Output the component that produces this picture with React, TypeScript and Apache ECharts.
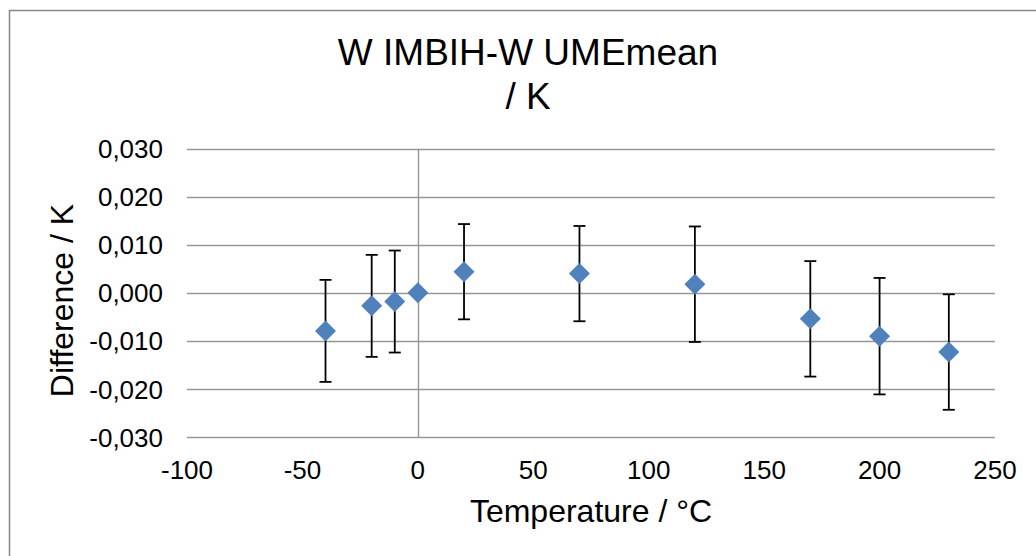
import React, { useEffect, useRef } from "react";
import * as echarts from "echarts";

const temperatures = [-40, -20, -10, 0, 20, 70, 120, 170, 200, 230];
const differences = [-0.0078, -0.0026, -0.0017, 0.0001, 0.0045, 0.0041, 0.0019, -0.0053, -0.0089, -0.0122];
const uncertainties = [0.0106, 0.0106, 0.0106, 0, 0.0099, 0.0099, 0.012, 0.012, 0.0121, 0.012];

const titleText = "W IMBIH-W UMEmean\n/ K";
const xTitle = "Temperature / °C";
const yTitle = "Difference / K";

const FONT = '"Liberation Sans", Arial, sans-serif';

export default function App() {
  const ref = useRef<HTMLDivElement>(null);
  useEffect(() => {
    if (!ref.current) return;
    const chart = echarts.init(ref.current, null, { renderer: "svg" });
    const points = temperatures.map((t, i) => [t, differences[i]]);
    const bars = temperatures
      .map((t, i) => [t, differences[i] - uncertainties[i], differences[i] + uncertainties[i], uncertainties[i]])
      .filter((d) => d[3] > 0);
    chart.setOption({
      animation: false,
      backgroundColor: "#fff",
      grid: { left: 187, right: 41, top: 149, bottom: 118.3 },
      xAxis: {
        type: "value",
        min: -100,
        max: 250,
        interval: 50,
        axisLine: { show: false },
        axisTick: { show: false },
        splitLine: { show: false },
        axisLabel: { color: "#000", fontSize: 26, fontFamily: FONT, margin: 19 },
      },
      yAxis: {
        type: "value",
        min: -0.03,
        max: 0.03,
        interval: 0.01,
        axisLine: { show: false },
        axisTick: { show: false },
        splitLine: { show: true, lineStyle: { color: "#969696", width: 1.4 } },
        axisLabel: {
          color: "#000",
          fontSize: 26,
          fontFamily: FONT,
          margin: 24,
          formatter: (v: number) => v.toFixed(3).replace(".", ","),
        },
      },
      graphic: [
        {
          type: "rect",
          shape: { x: 9.5, y: 10.5, width: 1200, height: 700 },
          style: { fill: "none", stroke: "#888", lineWidth: 1.5 },
          silent: true,
          z: -10,
        },
        {
          type: "text",
          x: 528,
          y: 30,
          style: {
            text: titleText,
            font: `37px ${FONT}`,
            lineHeight: 44,
            fill: "#000",
            textAlign: "center",
            textVerticalAlign: "top",
          },
        },
        {
          type: "text",
          x: 591,
          y: 510.5,
          style: {
            text: xTitle,
            font: `32px ${FONT}`,
            fill: "#000",
            textAlign: "center",
            textVerticalAlign: "middle",
          },
        },
        {
          type: "text",
          x: 61.5,
          y: 300.5,
          rotation: Math.PI / 2,
          style: {
            text: yTitle,
            font: `32px ${FONT}`,
            fill: "#000",
            textAlign: "center",
            textVerticalAlign: "middle",
          },
        },
      ],
      series: [
        {
          type: "custom",
          data: bars,
          encode: { x: 0, y: [1, 2] },
          z: 2,
          silent: true,
          renderItem: (params: any, api: any) => {
            const x = api.value(0);
            const lo = api.coord([x, api.value(1)]);
            const hi = api.coord([x, api.value(2)]);
            const hw = 6;
            const st = { stroke: "#000", lineWidth: 1.8 };
            return {
              type: "group",
              children: [
                { type: "line", shape: { x1: hi[0], y1: hi[1], x2: lo[0], y2: lo[1] }, style: st },
                { type: "line", shape: { x1: hi[0] - hw, y1: hi[1], x2: hi[0] + hw, y2: hi[1] }, style: st },
                { type: "line", shape: { x1: lo[0] - hw, y1: lo[1], x2: lo[0] + hw, y2: lo[1] }, style: st },
              ],
            };
          },
        },
        {
          type: "scatter",
          data: points,
          symbol: "diamond",
          symbolSize: 21,
          itemStyle: { color: "#4f81bd", opacity: 1 },
          z: 3,
          markLine: {
            silent: true,
            symbol: "none",
            label: { show: false },
            lineStyle: { color: "#969696", width: 1.4, type: "solid" },
            data: [{ xAxis: 0 }],
            z: 1,
          },
        },
      ],
    });
    return () => chart.dispose();
  }, []);
  return (
    <div
      ref={ref}
      style={{ position: "fixed", left: 0, top: 0, width: 1036, height: 556, background: "#fff" }}
    />
  );
}
